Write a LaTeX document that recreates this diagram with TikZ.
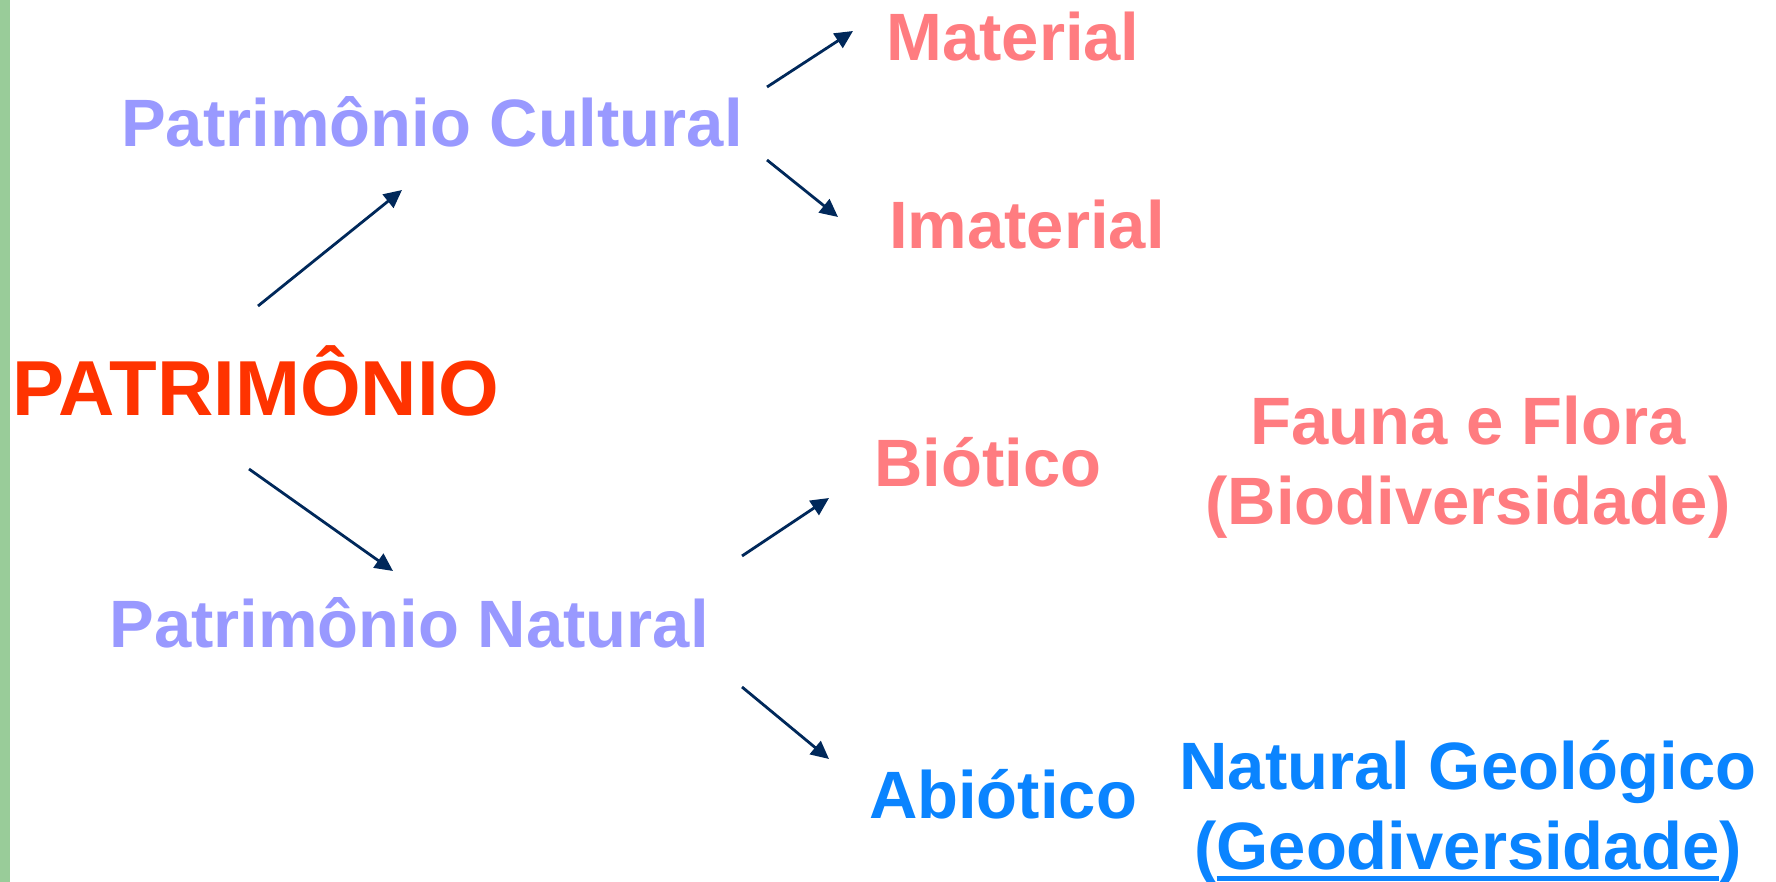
\documentclass[tikz,border=0pt]{standalone}
\usepackage{fontspec}
\setmainfont{Liberation Sans}
\usetikzlibrary{arrows.meta}

\definecolor{barra}{HTML}{99CC99}
\definecolor{raizcor}{HTML}{FF3300}
\definecolor{ramocor}{HTML}{9999FF}
\definecolor{folhacor}{HTML}{FF7C80}
\definecolor{geocor}{HTML}{0A84FF}
\definecolor{setacor}{HTML}{00285A}

% underline with a thick rule, as in the slide
\newcommand{\sublinha}[1]{%
    \setbox0\hbox{#1}\rlap{\rule[-6pt]{\wd0}{2.5pt}}\box0}

\begin{document}
\begin{tikzpicture}[x=0.5pt, y=-0.5pt]
        \tikzset{
            root/.style={anchor=base, inner sep=0pt, text=raizcor,
                font=\fontsize{39}{47}\selectfont\bfseries},
            branch/.style={anchor=base, inner sep=0pt, text=ramocor,
                font=\fontsize{33.5}{40}\selectfont\bfseries},
            leaf/.style={branch, text=folhacor},
            note/.style={leaf, align=center},
            link/.style={draw=setacor, line width=1.4pt,
                -{Triangle[length=9pt, width=8.5pt]}}
        }

        \useasboundingbox (0,0) rectangle (1776,882);
        \fill[barra] (0,0) rectangle (10,882);

        % Root
        \node[root] (patr) at (256,415) {PATRIMÔNIO};

        % Cultural branch
        \node[branch] (cult) at (432,147) {Patrimônio Cultural};
        \node[leaf] (mat) at (1013,61) {Material};
        \node[leaf] (imat) at (1027,249) {Imaterial};

        % Natural branch
        \node[branch] (nat) at (409,647) {Patrimônio Natural};
        \node[leaf] (biot) at (988,486) {Biótico};
        \node[leaf, text=geocor] (abiot) at (1003,818) {Abiótico};
        \node[note] (bio) at (1468,524) {Fauna e Flora\\(Biodiversidade)};
        \node[note, text=geocor] (geo) at (1468,869)
            {Natural Geológico\\(\sublinha{Geodiversidade})};

        % Arrows
        \draw[link] ([shift={(2,-109)}]patr.base) -- ([shift={(-30,43)}]cult.base);
        \draw[link] ([shift={(-7,54)}]patr.base) -- ([shift={(-16,-76)}]nat.base);
        \draw[link] ([shift={(335,-60)}]cult.base) -- ([shift={(-160,-30)}]mat.base);
        \draw[link] ([shift={(335,13)}]cult.base) -- ([shift={(-189,-32)}]imat.base);
        \draw[link] ([shift={(333,-91)}]nat.base) -- ([shift={(-159,12)}]biot.base);
        \draw[link] ([shift={(333,40)}]nat.base) -- ([shift={(-174,-59)}]abiot.base);
\end{tikzpicture}
\end{document}
